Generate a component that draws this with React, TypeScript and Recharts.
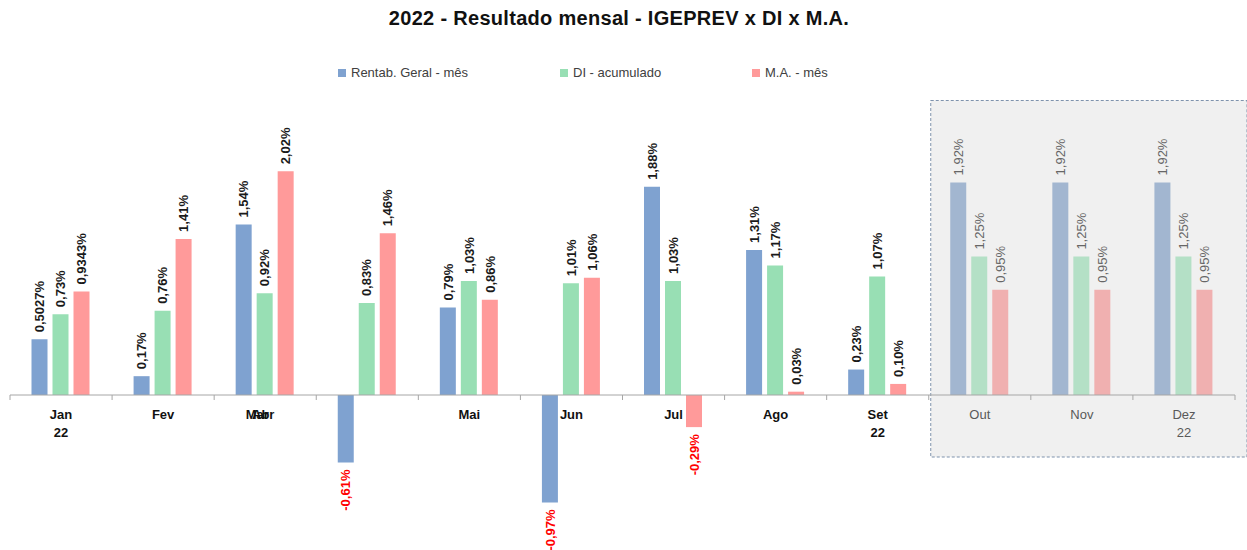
import React from 'react';
import { ComposedChart, Bar, XAxis, YAxis, ReferenceLine, ReferenceArea, Cell, LabelList } from 'recharts';

const months = ['Jan', 'Fev', 'Mar', 'Abr', 'Mai', 'Jun', 'Jul', 'Ago', 'Set', 'Out', 'Nov', 'Dez'];
const yearMarks = ['22', '', '', '', '', '', '', '', '22', '', '', '22'];
const rentab = [0.5027, 0.17, 1.54, -0.61, 0.79, -0.97, 1.88, 1.31, 0.23, 1.92, 1.92, 1.92];
const di = [0.73, 0.76, 0.92, 0.83, 1.03, 1.01, 1.03, 1.17, 1.07, 1.25, 1.25, 1.25];
const ma = [0.9343, 1.41, 2.02, 1.46, 0.86, 1.06, -0.29, 0.03, 0.10, 0.95, 0.95, 0.95];
const projected = [false, false, false, false, false, false, false, false, false, true, true, true];
const seriesNames = ['Rentab. Geral - mês', 'DI - acumulado', 'M.A. - mês'];
const seriesKeys = ['rentab', 'di', 'ma'];
const seriesColors = ['#7fa2d0', '#98dfb4', '#ff9a9a'];
const fadedColors = ['#a2b6d0', '#b4e0c6', '#f0b0b0'];

const data = months.map((m, i) => ({ month: m, rentab: rentab[i], di: di[i], ma: ma[i] }));

const FONT = '"Liberation Sans", Arial, sans-serif';

const fmt = (v: number) => {
  let s = Math.abs(v).toFixed(4);
  while (s.endsWith('0') && s.split('.')[1].length > 2) s = s.slice(0, -1);
  return (v < 0 ? '-' : '') + s.replace('.', ',') + '%';
};

const renderBarLabel = (props: any) => {
  const { x, y, width, height, value, index } = props;
  const v = Number(value);
  const top = Math.min(y, y + height);
  const bottom = Math.max(y, y + height);
  const cx = x + width / 2;
  const proj = projected[index];
  const neg = v < 0;
  const ay = neg ? bottom + 7 : top - 7;
  return (
    <text
      transform={`translate(${cx},${ay}) rotate(-90)`}
      textAnchor={neg ? 'end' : 'start'}
      dy="0.36em"
      fontFamily={FONT}
      fontSize={13}
      fontWeight={proj ? 400 : 700}
      fill={neg ? '#ff0000' : proj ? '#666666' : '#1a1a1a'}
    >
      {fmt(v)}
    </text>
  );
};

const AxisShape = (props: any) => {
  const { x1, y1, x2 } = props;
  const n = months.length;
  const w = (x2 - x1) / n;
  const ticks = [];
  for (let i = 0; i <= n; i++) {
    ticks.push(<line key={'t' + i} x1={x1 + i * w} x2={x1 + i * w} y1={y1} y2={y1 + 5} stroke="#a6a6a6" strokeWidth={1} />);
  }
  const labels = months.map((m, i) => {
    // the reference draws the "Abr" label overlapping "Mar"
    const slot = m === 'Abr' ? i - 1 : i;
    const shift = m === 'Mar' ? -8 : m === 'Abr' ? -2 : 0;
    const cx = x1 + (slot + 0.5) * w + shift;
    const proj = projected[i];
    return (
      <g key={'l' + i}>
        <text x={cx} y={y1 + 24} textAnchor="middle" fontFamily={FONT} fontSize={13} fontWeight={proj ? 400 : 700} fill={proj ? '#595959' : '#111'}>
          {m}
        </text>
        {yearMarks[i] ? (
          <text x={cx} y={y1 + 42} textAnchor="middle" fontFamily={FONT} fontSize={13} fontWeight={proj ? 400 : 700} fill={proj ? '#595959' : '#111'}>
            {yearMarks[i]}
          </text>
        ) : null}
      </g>
    );
  });
  return (
    <g>
      <line x1={x1} x2={x2} y1={y1} y2={y1} stroke="#a6a6a6" strokeWidth={1} />
      {ticks}
      {labels}
    </g>
  );
};

const AreaShape = (props: any) => {
  const { x, y, width, height } = props;
  return <rect x={x + 2} y={y} width={width + 10} height={height} fill="#f0f0f0" stroke="#7f93ad" strokeWidth={1} strokeDasharray="3 2" />;
};

export default function App() {
  return (
    <div style={{ position: 'absolute', left: 0, top: 0, width: 1247, height: 550, background: '#fff', fontFamily: FONT }}>
      <div style={{ position: 'absolute', top: 7, left: 0, width: 1238, textAlign: 'center', fontSize: 20, fontWeight: 700, letterSpacing: 0.3, color: '#111' }}>
        2022 - Resultado mensal - IGEPREV x DI x M.A.
      </div>
      {seriesNames.map((name, i) => (
        <div key={name} style={{ position: 'absolute', top: 65, left: [338, 560, 752][i], display: 'flex', alignItems: 'center', fontSize: 13, color: '#404040' }}>
          <span style={{ display: 'inline-block', width: 8, height: 8, background: seriesColors[i], marginRight: 5 }} />
          <span>{name}</span>
        </div>
      ))}
      <div style={{ position: 'absolute', left: 0, top: 0 }}>
        <ComposedChart width={1247} height={550} data={data} margin={{ top: 85, right: 12, bottom: 0, left: 10 }} barCategoryGap={21.5} barGap={5}>
          <XAxis dataKey="month" hide />
          <YAxis hide domain={[-1.4, 2.8]} />
          <ReferenceArea x1="Out" x2="Dez" y1={-0.56} y2={2.66} shape={AreaShape} ifOverflow="visible" />
          {seriesKeys.map((k, s) => (
            <Bar key={k} dataKey={k} name={seriesNames[s]} fill={seriesColors[s]} isAnimationActive={false}>
              {data.map((d, i) => (
                <Cell key={i} fill={projected[i] ? fadedColors[s] : seriesColors[s]} />
              ))}
              <LabelList dataKey={k} content={renderBarLabel} />
            </Bar>
          ))}
          <ReferenceLine y={0} shape={AxisShape} ifOverflow="visible" />
        </ComposedChart>
      </div>
    </div>
  );
}
